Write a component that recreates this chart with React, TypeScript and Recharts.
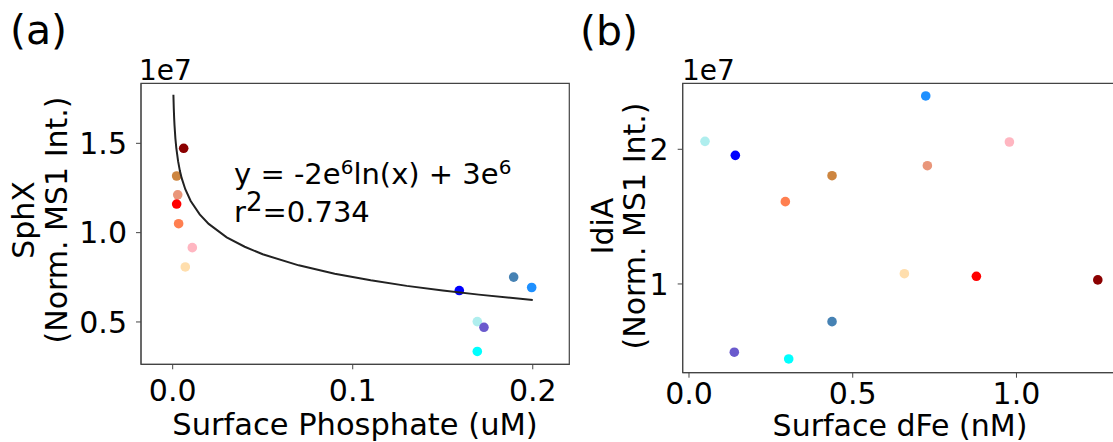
import React from 'react';
import { ScatterChart, Scatter, XAxis, YAxis, ReferenceArea } from 'recharts';

// station colours shared by both panels
const stationColors = ['#8B0000', '#CD853F', '#E9967A', '#FF0000', '#FF7F50', '#FFB6C1', '#FFDEAD', '#0000FF', '#4682B4', '#1E90FF', '#AFEEEE', '#6A5ACD', '#00FFFF'];

// panel (a)
const surfacePhosphate = [0.0061, 0.0022, 0.0028, 0.0022, 0.0033, 0.0109, 0.0070, 0.1592, 0.1894, 0.1994, 0.1692, 0.1729, 0.1692];
const sphX = [14720000, 13170000, 12120000, 11600000, 10500000, 9160000, 8080000, 6760000, 7510000, 6930000, 5020000, 4700000, 3350000];

// fitted curve
const fitX = [0.0004, 0.0006, 0.0008, 0.001, 0.0015, 0.002, 0.003, 0.004, 0.005, 0.007, 0.01, 0.015, 0.02, 0.03, 0.04, 0.05, 0.07, 0.09, 0.11, 0.13, 0.15, 0.17, 0.2];
const fitY = [17720000, 16980000, 16440000, 16030000, 15280000, 14750000, 14000000, 13460000, 13050000, 12430000, 11770000, 11020000, 10490000, 9740000, 9210000, 8790000, 8170000, 7700000, 7330000, 7020000, 6760000, 6530000, 6230000];

// panel (b)
const surfaceDFe = [1.2483, 0.4368, 0.7279, 0.8776, 0.2942, 0.9784, 0.6577, 0.1415, 0.4368, 0.7229, 0.0489, 0.1384, 0.3045];
const idiA = [10300000, 18040000, 18780000, 10570000, 16110000, 20540000, 10760000, 19550000, 7200000, 23960000, 20590000, 4930000, 4430000];

// ticks
const aXTicks = [0, 0.1, 0.2];
const aYTicks = [5000000, 10000000, 15000000];
const bXTicks = [0, 0.5, 1.0];
const bYTicks = [10000000, 20000000];

const aXDomain = [-0.0176, 0.2203];
const aYDomain = [2630000, 18360000];
const bXDomain = [-0.0192, 1.31];
const bYDomain = [3410000, 24900000];

const FONT = 'DejaVu Sans';
const AXIS_COLOR = '#444';

const dataA = surfacePhosphate.map((x, i) => ({ x, y: sphX[i], color: stationColors[i] }));
const dataB = surfaceDFe.map((x, i) => ({ x, y: idiA[i], color: stationColors[i] }));
const fitData = fitX.map((x, i) => ({ x, y: fitY[i] }));

const dot = (p: any) => <circle cx={p.cx} cy={p.cy} r={4.8} fill={p.payload.color} />;
const noDot = () => <g />;

const tickStyle = { fontSize: 30, fill: '#000', fontFamily: FONT };

export default function App() {
  return (
    <div style={{ position: 'absolute', left: 0, top: 0, width: 1113, height: 442, overflow: 'hidden', background: '#fff' }}>
      <div style={{ position: 'absolute', left: 0, top: 0 }}>
        <ScatterChart width={580} height={442} margin={{ top: 83.3, right: 10.7, left: 0, bottom: 17.7 }}>
          <XAxis type="number" dataKey="x" domain={aXDomain} ticks={aXTicks} allowDataOverflow
            tickFormatter={(v: number) => v.toFixed(1)} height={60} tickSize={5} tickMargin={10}
            stroke={AXIS_COLOR} tick={tickStyle} />
          <YAxis type="number" dataKey="y" domain={aYDomain} ticks={aYTicks} allowDataOverflow
            tickFormatter={(v: number) => (v / 1e7).toFixed(1)} width={141} tickSize={5} tickMargin={9}
            stroke={AXIS_COLOR} tick={tickStyle} />
          <ReferenceArea x1={aXDomain[0]} x2={aXDomain[1]} y1={aYDomain[0]} y2={aYDomain[1]}
            fill="none" stroke={AXIS_COLOR} strokeWidth={1.2} fillOpacity={0} ifOverflow="visible" />
          <Scatter data={dataA} shape={dot} isAnimationActive={false} />
          <Scatter data={fitData} shape={noDot} line={{ stroke: '#222', strokeWidth: 2 }} lineType="joint" isAnimationActive={false} />
        </ScatterChart>
      </div>
      <div style={{ position: 'absolute', left: 590, top: 0 }}>
        <ScatterChart width={530} height={442} margin={{ top: 83.3, right: 2, left: 0, bottom: 19.3 }}>
          <XAxis type="number" dataKey="x" domain={bXDomain} ticks={bXTicks} allowDataOverflow
            tickFormatter={(v: number) => v.toFixed(1)} height={50} tickSize={5} tickMargin={5}
            stroke={AXIS_COLOR} tick={tickStyle} />
          <YAxis type="number" dataKey="y" domain={bYDomain} ticks={bYTicks} allowDataOverflow
            tickFormatter={(v: number) => String(Math.round(v / 1e7))} width={92.7} tickSize={5} tickMargin={9}
            stroke={AXIS_COLOR} tick={tickStyle} />
          <ReferenceArea x1={bXDomain[0]} x2={bXDomain[1]} y1={bYDomain[0]} y2={bYDomain[1]}
            fill="none" stroke={AXIS_COLOR} strokeWidth={1.2} fillOpacity={0} ifOverflow="visible" />
          <Scatter data={dataB} shape={dot} isAnimationActive={false} />
        </ScatterChart>
      </div>
      <svg width={1113} height={442} style={{ position: 'absolute', left: 0, top: 0, pointerEvents: 'none' }}
        fontFamily={FONT} fill="#000">
        <text x={10} y={44} fontSize={41}>(a)</text>
        <text x={580} y={45} fontSize={41}>(b)</text>
        <text x={139} y={80} fontSize={28}>1e7</text>
        <text x={682} y={80} fontSize={28}>1e7</text>
        <text x={234} y={184.3} fontSize={29}>
          y = -2e<tspan dy={-10} fontSize={20}>6</tspan><tspan dy={10}>ln(x) + 3e</tspan><tspan dy={-10} fontSize={20}>6</tspan>
        </text>
        <text x={234} y={221.7} fontSize={29}>
          r<tspan dy={-11} fontSize={26}>2</tspan><tspan dy={11}>=0.734</tspan>
        </text>
        <text x={355} y={435} fontSize={30.5} textAnchor="middle">Surface Phosphate (uM)</text>
        <text x={900} y={436} fontSize={30} textAnchor="middle">Surface dFe (nM)</text>
        <text transform="translate(33.5,220) rotate(-90)" fontSize={30} textAnchor="middle">SphX</text>
        <text transform="translate(66.5,220) rotate(-90)" fontSize={30} textAnchor="middle">(Norm. MS1 Int.)</text>
        <text transform="translate(613,226) rotate(-90)" fontSize={30} textAnchor="middle">IdiA</text>
        <text transform="translate(645,226) rotate(-90)" fontSize={30} textAnchor="middle">(Norm. MS1 Int.)</text>
      </svg>
    </div>
  );
}
